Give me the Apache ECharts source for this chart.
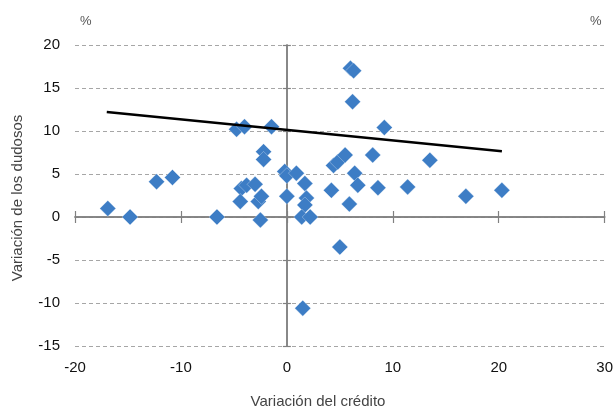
<!DOCTYPE html>
<html><head><meta charset="utf-8">
<script src="https://cdn.jsdelivr.net/npm/echarts@6/dist/echarts.min.js"></script>
<style>html,body{margin:0;padding:0;background:#fff}#c{width:616px;height:410px}</style>
</head><body><div id="c"></div>
<script>
// Variación del crédito (x), Variación de los dudosos (y)
const creditoX = [-16.9,-14.8,-12.3,-10.8,-6.6,-4.75,-4.0,-1.45,-2.2,-2.2,-4.3,-3.8,-3.0,-4.4,-2.7,-2.4,-2.5,-0.2,0.0,0.9,1.7,0.0,1.85,1.7,1.4,2.2,4.2,4.4,4.8,5.5,6.0,6.3,6.2,9.2,8.1,6.4,6.7,8.6,11.4,5.9,13.5,16.9,20.3,5.0,1.5];
const dudososY = [1.0,0.0,4.1,4.6,0.0,10.2,10.5,10.5,7.6,6.7,3.3,3.7,3.8,1.8,1.8,2.4,-0.35,5.3,4.8,5.1,3.9,2.4,2.2,1.4,0.0,0.0,3.1,6.0,6.4,7.2,17.3,17.0,13.4,10.4,7.2,5.1,3.7,3.4,3.5,1.5,6.6,2.4,3.1,-3.5,-10.6];
const trendX = [-17.0, 20.3];
const trendY = [12.2, 7.65];
const xTicks = [-20,-10,0,10,20,30];
const yTicks = [-15,-10,-5,0,5,10,15,20];
const xName = 'Variación del crédito';
const yName = 'Variación de los dudosos';
const unitLabel = '%';

const font = 'Liberation Sans, Arial, Helvetica, sans-serif';
const axisGray = '#808080';
const pts = creditoX.map((x,i)=>[x, dudososY[i]]);
const trend = trendX.map((x,i)=>[x, trendY[i]]);
const xr = {min: xTicks[0], max: xTicks[xTicks.length-1], interval: 10};
const yr = {min: yTicks[0], max: yTicks[yTicks.length-1], interval: 5};

const chart = echarts.init(document.getElementById('c'), null, {renderer:'canvas'});
chart.setOption({
  animation: false,
  grid: {left: 75, right: 11, top: 45, bottom: 64},
  xAxis: [
    Object.assign({type:'value', position:'bottom',
      axisLine:{show:false, onZero:false}, axisTick:{show:false}, splitLine:{show:false},
      axisLabel:{color:'#111', fontSize:15, fontFamily:font, margin:14}}, xr),
    Object.assign({type:'value', position:'bottom',
      axisLine:{show:true, onZero:true, onZeroAxisIndex:0, lineStyle:{color:axisGray, width:1.5}},
      axisTick:{show:true, inside:false, length:6, lineStyle:{color:axisGray, width:1.2}},
      axisLabel:{show:false}, splitLine:{show:false}}, xr),
    Object.assign({type:'value', position:'bottom',
      axisLine:{show:true, onZero:true, onZeroAxisIndex:1, lineStyle:{color:axisGray, width:1.5}},
      axisTick:{show:true, inside:true, length:6, lineStyle:{color:axisGray, width:1.2}},
      axisLabel:{show:false}, splitLine:{show:false}}, xr)
  ],
  yAxis: [
    Object.assign({type:'value', position:'left',
      axisLine:{show:false, onZero:false}, axisTick:{show:false},
      splitLine:{show:true, lineStyle:{color:'#a6a6a6', type:[4,3], width:1}},
      axisLabel:{color:'#111', fontSize:15, fontFamily:font, margin:15}}, yr),
    Object.assign({type:'value', position:'left',
      axisLine:{show:true, onZero:true, onZeroAxisIndex:0, lineStyle:{color:axisGray, width:1.5}},
      axisTick:{show:true, inside:false, length:4, lineStyle:{color:axisGray, width:1.2}},
      axisLabel:{show:false}, splitLine:{show:false}}, yr),
    Object.assign({type:'value', position:'left',
      axisLine:{show:true, onZero:true, onZeroAxisIndex:1, lineStyle:{color:axisGray, width:1.5}},
      axisTick:{show:true, inside:true, length:4, lineStyle:{color:axisGray, width:1.2}},
      axisLabel:{show:false}, splitLine:{show:false}}, yr)
  ],
  series: [
    {type:'scatter', xAxisIndex:0, yAxisIndex:0, data: pts, symbol:'diamond', symbolSize:16,
     itemStyle:{color:'#3d7dc5', opacity:1, borderColor:'#ffffff', borderWidth:0.3}, z:3},
    {type:'line', xAxisIndex:0, yAxisIndex:0, data: trend, symbol:'none',
     lineStyle:{color:'#000', width:2.5}, z:4}
  ],
  graphic: [
    {type:'text', left:80, top:15, style:{text:unitLabel, fill:'#555', font:'13px '+font}},
    {type:'text', left:590, top:15, style:{text:unitLabel, fill:'#555', font:'13px '+font}},
    {type:'text', x:318, y:402, style:{text:xName, fill:'#444', font:'15px '+font, align:'center', verticalAlign:'middle'}},
    {type:'text', x:18, y:198, rotation:Math.PI/2, style:{text:yName, fill:'#444', font:'15px '+font, align:'center', verticalAlign:'middle'}}
  ]
});
</script></body></html>
